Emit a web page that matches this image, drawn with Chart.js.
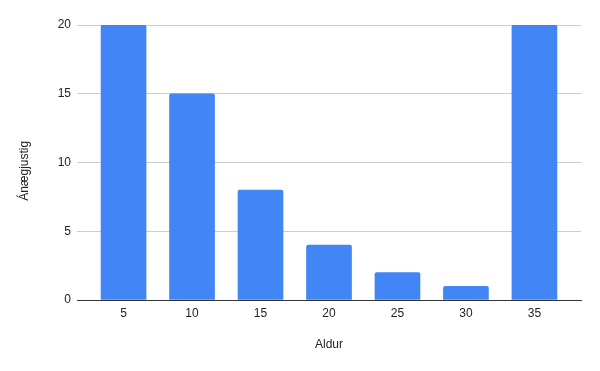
<!DOCTYPE html>
<html>
<head>
<meta charset="utf-8">
<script src="https://cdn.jsdelivr.net/npm/chart.js@4"></script>
<style>
  body { margin: 0; background: #fff; }
  #wrap { width: 600px; height: 371px; }
</style>
</head>
<body>
<div id="wrap"><canvas id="chart" width="600" height="371"></canvas></div>
<script>
// aldur (x) og ánægjustig (y)
const aldur = [5, 10, 15, 20, 25, 30, 35]
const anaegjustig = [20, 15, 8, 4, 2, 1, 20]
const yTicks = [0, 5, 10, 15, 20]

const font = { family: '"Liberation Sans", Arial, sans-serif', size: 12 }
const textColor = '#222'

new Chart('chart', {
    type: 'bar',
    data: {
        datasets: [{
            data: aldur.map((a, i) => ({ x: a, y: anaegjustig[i] })),
            backgroundColor: '#4285f4',
            borderRadius: { topLeft: 2, topRight: 2 },
            borderSkipped: 'bottom',
            barThickness: 45
        }]
    },
    options: {
        responsive: false,
        animation: false,
        layout: { padding: { top: 25, right: 19, left: 0, bottom: 0 } },
        plugins: { legend: { display: false }, tooltip: { enabled: false } },
        scales: {
            x: {
                type: 'linear',
                offset: false,
                min: 1.6,
                max: 38.4,
                afterBuildTicks: s => { s.ticks = aldur.map(v => ({ value: v })) },
                afterFit: s => { s.height = 71 },
                grid: { display: false, drawTicks: false, offset: false },
                border: { color: '#333', width: 1 },
                ticks: { font, color: textColor, padding: 6, maxRotation: 0 },
                title: { display: true, text: 'Aldur', font, color: textColor, padding: { top: 0, bottom: 19 } }
            },
            y: {
                min: 0,
                max: 20,
                afterBuildTicks: s => { s.ticks = yTicks.map(v => ({ value: v })) },
                afterFit: s => { s.width = 77 },
                grid: { color: '#cccccc', drawTicks: false },
                border: { display: false },
                ticks: { font, color: textColor, padding: 6 },
                title: { display: true, text: 'Ánægjustig\u00a0\u00a0\u00a0\u00a0\u00a0', font, color: textColor, padding: { top: 17, bottom: 0 } }
            }
        }
    }
})
</script>
</body>
</html>
